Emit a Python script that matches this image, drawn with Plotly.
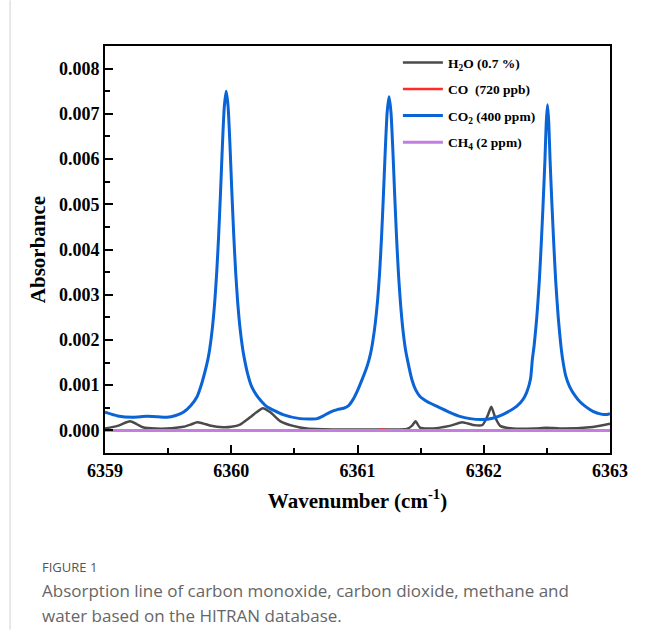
import plotly.graph_objects as go

# ---------------- data ----------------
co2_x = [6359.00, 6359.10, 6359.22, 6359.33, 6359.42, 6359.49, 6359.56, 6359.62, 6359.68, 6359.73,
         6359.76, 6359.79, 6359.815, 6359.83, 6359.85, 6359.87, 6359.885, 6359.90, 6359.915, 6359.93,
         6359.945, 6359.96, 6359.975, 6359.99, 6360.005, 6360.02, 6360.035, 6360.05, 6360.07, 6360.09,
         6360.105, 6360.13, 6360.16, 6360.20, 6360.24, 6360.28, 6360.41, 6360.545, 6360.62, 6360.68,
         6360.73, 6360.78, 6360.84, 6360.89, 6360.93, 6360.964, 6361.00, 6361.04, 6361.07, 6361.09,
         6361.105, 6361.12, 6361.14, 6361.16, 6361.175, 6361.19, 6361.205, 6361.22, 6361.235, 6361.25,
         6361.265, 6361.28, 6361.295, 6361.31, 6361.325, 6361.34, 6361.36, 6361.38, 6361.395, 6361.43,
         6361.46, 6361.495, 6361.55, 6361.63, 6361.73, 6361.81, 6361.89, 6361.99, 6362.07, 6362.15,
         6362.26, 6362.31, 6362.34, 6362.37, 6362.385, 6362.40, 6362.42, 6362.44, 6362.455, 6362.47,
         6362.485, 6362.495, 6362.505, 6362.515, 6362.525, 6362.54, 6362.555, 6362.57, 6362.59, 6362.61,
         6362.625, 6362.65, 6362.68, 6362.72, 6362.76, 6362.81, 6362.865, 6362.93, 6362.976, 6363.00]
co2_y = [0.00040, 0.00032, 0.00029, 0.00031, 0.00030, 0.00029, 0.00033, 0.00040, 0.00055, 0.00075,
         0.00098, 0.00128, 0.00157, 0.00181, 0.00225, 0.00287, 0.00350, 0.00430, 0.00526, 0.00630,
         0.00716, 0.00750, 0.00716, 0.00630, 0.00526, 0.00430, 0.00350, 0.00287, 0.00225, 0.00181,
         0.00157, 0.00125, 0.00098, 0.00078, 0.00064, 0.00053, 0.00035, 0.00026, 0.00025, 0.00026,
         0.00032, 0.00040, 0.00046, 0.00049, 0.00055, 0.00068, 0.00088, 0.00115, 0.00137, 0.00155,
         0.00172, 0.00195, 0.00235, 0.00290, 0.00348, 0.00425, 0.00518, 0.00620, 0.00704, 0.00738,
         0.00704, 0.00620, 0.00518, 0.00423, 0.00344, 0.00283, 0.00222, 0.00179, 0.00157, 0.00113,
         0.00090, 0.00075, 0.00064, 0.00053, 0.00040, 0.00031, 0.00026, 0.00024, 0.00027, 0.00035,
         0.00053, 0.00068, 0.00084, 0.00113, 0.00157, 0.00190, 0.00250, 0.00330, 0.00410, 0.00500,
         0.00600, 0.00680, 0.00720, 0.00680, 0.00600, 0.00500, 0.00410, 0.00330, 0.00250, 0.00190,
         0.00157, 0.00120, 0.00097, 0.00078, 0.00064, 0.00052, 0.00042, 0.00036, 0.00035, 0.00037]

h2o_x = [6359.00, 6359.10, 6359.198, 6359.25, 6359.30, 6359.40, 6359.49, 6359.62, 6359.68, 6359.73,
         6359.78, 6359.83, 6359.935, 6360.00, 6360.07, 6360.15, 6360.20, 6360.25, 6360.31, 6360.39,
         6360.49, 6360.60, 6360.80, 6361.00, 6361.20, 6361.39, 6361.43, 6361.46, 6361.495, 6361.57,
         6361.73, 6361.83, 6361.915, 6361.99, 6362.03, 6362.06, 6362.09, 6362.13, 6362.23, 6362.40,
         6362.50, 6362.60, 6362.84, 6363.00]
h2o_y = [0.00004, 0.00010, 0.00020, 0.00014, 0.00007, 0.00004, 0.00004, 0.00008, 0.00013, 0.00018,
         0.00015, 0.00011, 0.00007, 0.00008, 0.00013, 0.00029, 0.00040, 0.00049, 0.00040, 0.00020,
         0.00010, 0.00004, 0.00002, 0.00002, 0.00002, 0.00003, 0.00010, 0.00020, 0.00006, 0.00004,
         0.00010, 0.00018, 0.00012, 0.00012, 0.00032, 0.00052, 0.00029, 0.00010, 0.00004, 0.00004,
         0.00006, 0.00004, 0.00007, 0.00015]

co_x = [6359.00, 6361.15, 6361.20, 6361.25, 6363.00]
co_y = [0.0, 0.0, 0.00002, 0.0, 0.0]

ch4_x = [6359.00, 6363.00]
ch4_y = [0.0, 0.0]

names = ["H<sub>2</sub>O (0.7 %)", "CO  (720 ppb)", "CO<sub>2</sub> (400 ppm)", "CH<sub>4</sub> (2 ppm)"]
x_ticks = [6359, 6360, 6361, 6362, 6363]

# ---------------- figure ----------------
SERIF = "Liberation Serif"
fig = go.Figure()
fig.add_trace(go.Scatter(x=h2o_x, y=h2o_y, name=names[0], mode="lines", legendgroup="a",
                         line=dict(color="#4a4a4a", width=2.5, shape="spline", smoothing=0.6)))
fig.add_trace(go.Scatter(x=co_x, y=co_y, name=names[1], mode="lines", legendgroup="b",
                         line=dict(color="#ff2a2a", width=2.5)))
fig.add_trace(go.Scatter(x=co2_x, y=co2_y, name=names[2], mode="lines", legendgroup="c",
                         line=dict(color="#0a64d6", width=3, shape="spline", smoothing=0.6)))
fig.add_trace(go.Scatter(x=ch4_x, y=ch4_y, name=names[3], mode="lines", legendgroup="d",
                         line=dict(color="#c47ee0", width=3)))

axis_common = dict(showline=True, linewidth=2, linecolor="black", mirror=True,
                   showgrid=False, zeroline=False, ticks="inside", ticklen=8, tickwidth=2,
                   tickcolor="black",
                   tickfont=dict(family=SERIF, size=18, color="black", weight="bold"))

fig.update_xaxes(range=[6359, 6363], tickvals=x_ticks, ticktext=[str(v) for v in x_ticks],
                 minor=dict(dtick=0.5, tick0=6359, ticks="inside", ticklen=5, tickwidth=1.5,
                            tickcolor="black"),
                 title=dict(text="Wavenumber (cm<sup>-1</sup>)",
                            font=dict(family=SERIF, size=21, color="black", weight="bold"),
                            standoff=14),
                 **axis_common)
fig.update_yaxes(range=[-0.0005, 0.0085], dtick=0.001, tick0=0, tickformat=".3f",
                 minor=dict(dtick=0.0005, tick0=0, ticks="inside", ticklen=5, tickwidth=1.5,
                            tickcolor="black"),
                 title=dict(text="Absorbance",
                            font=dict(family=SERIF, size=21, color="black", weight="bold"),
                            standoff=8),
                 **axis_common)

fig.update_layout(
    width=646, height=630,
    margin=dict(l=105, r=36, t=46, b=177),
    paper_bgcolor="white", plot_bgcolor="white",
    showlegend=True,
    legend=dict(x=0.58, y=0.997, xanchor="left", yanchor="top",
                bgcolor="rgba(0,0,0,0)", borderwidth=0, tracegroupgap=6,
                itemwidth=40,
                font=dict(family=SERIF, size=13.5, color="black", weight="bold")),
)

# caption
fig.add_annotation(text="FIGURE 1", xref="paper", yref="paper", x=-0.1287, y=-0.2798,
                   xanchor="left", yanchor="middle", showarrow=False,
                   font=dict(family="Open Sans", size=13, color="#555555"))
fig.add_annotation(text="Absorption line of carbon monoxide, carbon dioxide, methane and",
                   xref="paper", yref="paper", x=-0.1287, y=-0.3387,
                   xanchor="left", yanchor="middle", showarrow=False,
                   font=dict(family="Open Sans", size=17, color="#666666"))
fig.add_annotation(text="water based on the HITRAN database.",
                   xref="paper", yref="paper", x=-0.1287, y=-0.40,
                   xanchor="left", yanchor="middle", showarrow=False,
                   font=dict(family="Open Sans", size=17, color="#666666"))
fig.add_shape(type="line", xref="paper", yref="paper", x0=-0.188, x1=-0.188, y0=1.112, y1=-0.434,
              line=dict(color="#d0d0d0", width=1))

fig.write_html("out.html")
